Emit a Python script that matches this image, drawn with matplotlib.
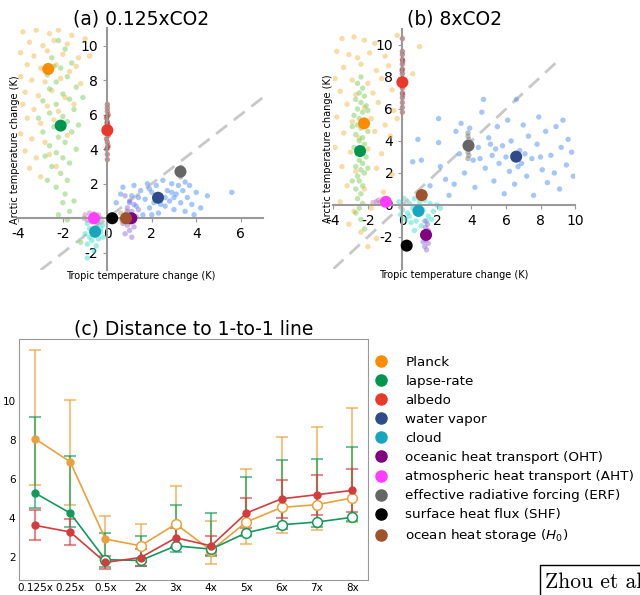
import matplotlib
matplotlib.use("Agg")
import matplotlib.pyplot as plt
from matplotlib.lines import Line2D

plt.rcParams['axes.unicode_minus'] = False

# ---------------- components ----------------
names = ["Planck", "lapse-rate", "albedo", "water vapor", "cloud",
         "oceanic heat transport (OHT)", "atmospheric heat transport (AHT)",
         "effective radiative forcing (ERF)", "surface heat flux (SHF)",
         "ocean heat storage ($H_0$)"]
keys = ["planck", "lapse", "albedo", "wv", "cloud", "oht", "aht", "erf", "shf", "h0"]
mean_colors = ["#ff8c00", "#00964f", "#e8392a", "#2f4b8a", "#18a6bf",
               "#800080", "#ff3dff", "#666666", "#000000", "#a0522d"]
cloud_colors = ["#f5b94f", "#7ccd5a", "#b22222", "#4a8ff5", "#40e0d0",
                "#9370db", "#c882b4", "#808080", "#000000", "#c8a070"]

# ---------------- panel (a) 0.125xCO2 : (tropic, arctic) ----------------
a_mean_x = [-2.66, -2.1, 0.0, 2.28, -0.55, 1.08, -0.6, 3.29, 0.22, 0.84]
a_mean_y = [8.65, 5.37, 5.1, 1.19, -0.78, 0.0, 0.0, 2.7, 0.0, 0.0]

a_cloud = {
    "planck": [(-3.8, 10.8), (-3.2, 10.9), (-2.6, 10.7), (-2.2, 10.9), (-1.6, 10.6), (-3.5, 10.2),
               (-2.9, 10.0), (-2.4, 10.3), (-1.8, 10.1), (-3.9, 9.6), (-3.3, 9.4), (-2.7, 9.7),
               (-2.0, 9.5), (-1.3, 9.3), (-3.6, 8.9), (-3.0, 8.7), (-2.3, 8.9), (-1.7, 8.5),
               (-3.9, 8.2), (-3.4, 8.0), (-2.8, 7.9), (-2.1, 8.1), (-1.2, 7.8), (-3.7, 7.3),
               (-3.1, 7.1), (-2.5, 7.4), (-1.9, 7.0), (-3.8, 6.6), (-3.3, 6.3), (-2.7, 6.5),
               (-2.2, 6.2), (-1.5, 6.6), (-3.6, 5.8), (-3.0, 5.5), (-2.4, 5.7), (-3.9, 4.9),
               (-3.4, 4.6), (-2.8, 4.4), (-1.8, 4.8), (-3.7, 3.9), (-3.2, 3.5), (-2.6, 3.7),
               (-3.5, 2.9), (-3.0, 2.4), (-2.3, 3.0), (-0.8, 9.4), (-1.0, 10.4), (-1.4, 8.8)],
    "lapse": [(-2.2, 10.3), (-1.9, 9.8), (-2.5, 9.3), (-1.6, 9.0), (-2.1, 8.7), (-2.7, 8.3),
              (-1.8, 8.2), (-2.3, 7.9), (-1.4, 7.6), (-2.6, 7.5), (-2.0, 7.2), (-1.7, 6.9),
              (-2.9, 6.8), (-2.3, 6.6), (-1.5, 6.3), (-2.6, 6.1), (-2.0, 5.9), (-1.8, 5.6),
              (-2.4, 5.3), (-2.9, 5.0), (-1.6, 5.0), (-2.2, 4.7), (-1.9, 4.4), (-2.6, 4.2),
              (-1.4, 4.0), (-2.3, 3.8), (-2.0, 3.5), (-1.7, 3.2), (-2.5, 3.0), (-2.1, 2.6),
              (-1.8, 2.2), (-2.3, 1.8), (-1.9, 1.4), (-2.0, 0.9), (-1.7, 0.4), (-1.8, -0.1),
              (-1.2, -1.4), (-2.8, 3.6), (-1.3, 5.4), (-2.4, 8.8), (-1.1, 7.0), (-2.7, 2.2),
              (-1.5, 1.0), (-2.2, 0.2), (-3.1, 5.8)],
    "albedo": [(0, 3.4), (0, 3.7), (-0.03, 4.0), (0.03, 4.2), (0, 4.4), (-0.04, 4.6), (0.04, 4.8),
               (0, 5.0), (-0.03, 5.2), (0.03, 5.4), (0, 5.6), (-0.04, 5.8), (0.04, 6.0), (0, 6.2),
               (0, 6.4), (0, 6.6), (0.02, 4.1), (-0.02, 5.5), (0.01, 4.9), (-0.01, 5.9)],
    "wv": [(0.4, 0.9), (0.7, 1.8), (0.9, 0.4), (1.1, 1.3), (1.2, 1.9), (1.3, 0.7), (1.5, 1.6),
           (1.6, 0.2), (1.7, 1.1), (1.8, 2.0), (1.9, 0.6), (2.0, 1.5), (2.1, 0.9), (2.2, 1.9),
           (2.3, 0.3), (2.4, 1.3), (2.5, 2.2), (2.6, 0.7), (2.7, 1.6), (2.8, 1.0), (2.9, 2.0),
           (3.0, 0.5), (3.1, 1.4), (3.2, 1.9), (3.3, 0.9), (3.4, 1.6), (3.5, 0.4), (3.6, 1.2),
           (3.7, 1.9), (3.8, 0.8), (4.0, 1.5), (4.2, 0.6), (4.5, 1.3), (1.4, 1.2), (2.0, 0.2),
           (2.6, 1.2), (3.0, 1.2), (1.9, 1.7), (2.4, 0.8), (2.9, 1.5), (5.6, 1.5), (3.9, 0.2),
           (1.0, 0.9), (0.6, 1.4), (3.5, 2.1)],
    "cloud": [(-0.9, -0.3), (-0.7, -0.1), (-0.4, -0.2), (-0.2, -0.4), (-0.8, -0.6), (-0.5, -0.5),
              (-0.3, -0.8), (-1.0, -0.9), (-0.6, -1.0), (-0.4, -1.2), (-0.7, -1.3), (-0.9, -1.5),
              (-0.5, -1.6), (-0.2, -1.1), (-0.6, -1.9), (-0.9, -2.3), (-0.3, -0.6), (-0.8, -1.1)],
    "oht": [(0.8, 1.3), (1.0, 1.0), (1.2, 0.8), (0.9, 0.6), (1.1, 0.4), (0.8, 0.2), (1.3, 0.1),
            (1.0, -0.2), (0.9, -0.4), (1.2, -0.5), (1.0, -0.7), (0.8, -0.9), (1.1, -1.1),
            (1.4, 0.5), (0.7, -0.3)],
    "aht": [(-1.0, 0.2), (-0.8, 0.3), (-0.6, 0.25), (-0.4, 0.2), (-0.9, -0.1), (-0.7, -0.2),
            (-0.5, -0.1), (-0.3, 0.0), (-1.05, 0.0), (-0.45, -0.25)],
    "erf": [(3.3, 2.4), (3.3, 2.55), (3.28, 2.8), (3.32, 2.95)],
    "shf": [],
    "h0": [(0.6, 0.3), (0.7, -0.2), (0.9, 0.35), (1.0, -0.25), (0.75, 0.1), (0.95, 0.0),
           (0.65, -0.1)],
}

# ---------------- panel (b) 8xCO2 ----------------
b_mean_x = [-2.22, -2.45, 0.0, 6.59, 0.93, 1.37, -0.96, 3.83, 0.25, 1.12]
b_mean_y = [5.1, 3.37, 7.67, 3.02, -0.37, -1.87, 0.2, 3.71, -2.54, 0.62]

b_cloud = {
    "planck": [(-3.5, 10.4), (-2.8, 10.5), (-2.2, 10.3), (-1.6, 10.1), (-0.3, 10.6), (1.0, 9.9),
               (-3.8, 9.6), (-3.1, 9.4), (-2.6, 9.2), (-1.9, 9.5), (-1.0, 9.3), (-3.4, 8.6),
               (-2.4, 8.8), (-1.5, 8.4), (-0.8, 8.7), (-3.9, 7.9), (-2.9, 7.8), (-2.0, 7.6),
               (-1.2, 7.9), (-3.6, 7.1), (-2.7, 6.9), (-1.7, 7.0), (-0.6, 7.2), (-3.2, 6.3),
               (-2.2, 6.1), (-1.4, 6.4), (-0.5, 5.9), (-3.8, 5.5), (-2.9, 5.2), (-1.8, 5.4),
               (-1.0, 5.0), (-3.4, 4.5), (-2.5, 4.2), (-1.6, 4.6), (-0.7, 4.3), (-3.9, 3.6),
               (-3.0, 3.3), (-2.0, 3.5), (-1.2, 3.2), (-3.5, 2.4), (-2.7, 2.1), (-1.5, 2.3),
               (-0.6, 1.9), (-3.2, 1.2), (-2.2, 1.0), (-1.1, 0.8), (-3.6, 0.2), (-2.8, -0.4),
               (-1.8, -0.2), (-3.1, -1.2), (-2.4, -1.7), (-1.5, -2.1), (-2.0, -2.6), (0.6, 8.2),
               (-0.3, 5.4)],
    "lapse": [(-2.4, 8.0), (-2.6, 7.6), (-2.3, 7.3), (-2.5, 7.0), (-2.2, 6.8), (-2.7, 6.6),
              (-2.4, 6.4), (-2.1, 6.2), (-2.6, 6.0), (-2.3, 5.8), (-2.8, 5.6), (-2.5, 5.4),
              (-2.2, 5.2), (-2.6, 5.0), (-2.4, 4.8), (-2.0, 4.6), (-2.7, 4.4), (-2.3, 4.2),
              (-2.5, 4.0), (-2.2, 3.8), (-2.8, 3.6), (-2.4, 3.4), (-2.6, 3.2), (-2.1, 3.0),
              (-2.5, 2.8), (-2.3, 2.6), (-2.7, 2.4), (-2.4, 2.2), (-2.2, 2.0), (-2.6, 1.8),
              (-2.5, 1.5), (-2.3, 1.2), (-2.7, 1.0), (-2.4, 0.7), (-2.6, 0.4), (-2.3, 0.1),
              (-2.5, -0.2), (-2.7, -0.5), (-2.4, -0.9), (-2.2, -1.5), (-2.9, 4.9), (-2.0, 2.3),
              (-2.9, 1.5), (-2.0, 5.9)],
    "albedo": [(0, 5.8), (0, 6.1), (0, 6.4), (0, 6.7), (0, 7.0), (0, 7.3), (0, 7.6), (0, 7.9),
               (0, 8.2), (0, 8.5), (0, 8.8), (0, 9.1), (0, 9.4), (0, 9.6), (0, 10.4),
               (0.02, 6.9), (-0.02, 8.4), (0.02, 9.0)],
    "wv": [(0.6, 2.7), (0.9, 4.1), (1.1, 2.8), (1.6, 1.2), (2.1, 5.4), (2.1, 3.9), (2.2, 2.4),
           (2.5, 1.6), (2.7, 0.6), (3.1, 4.6), (3.3, 3.2), (3.4, 5.1), (3.6, 2.0), (3.9, 4.8),
           (4.1, 2.8), (4.2, 1.1), (4.4, 3.6), (4.6, 5.8), (4.8, 2.3), (4.7, 6.6), (5.0, 4.2),
           (5.2, 3.1), (5.3, 1.5), (5.5, 4.9), (5.6, 2.6), (5.8, 3.7), (5.9, 0.7), (6.1, 5.3),
           (6.2, 2.1), (6.3, 4.0), (6.5, 1.3), (6.6, 6.6), (6.8, 3.4), (6.9, 2.6), (7.0, 5.0),
           (7.2, 1.8), (7.3, 4.3), (7.5, 2.9), (7.6, 0.6), (7.8, 3.8), (7.9, 5.5), (8.1, 2.2),
           (8.3, 4.6), (8.4, 1.4), (8.6, 3.1), (8.8, 2.0), (8.9, 4.9), (9.1, 1.0), (9.2, 3.6),
           (9.3, 5.3), (9.5, 2.5), (9.6, 4.1), (9.8, 3.3), (9.9, 1.8), (5.4, 3.5), (6.0, 3.0),
           (7.1, 3.2), (4.5, 2.9), (8.0, 3.0), (3.0, 1.3), (6.7, 2.4), (5.1, 3.8)],
    "cloud": [(-0.2, 0.2), (0.1, 0.4), (0.4, 0.1), (0.7, 0.4), (1.0, 0.2), (1.3, 0.3), (1.6, 0.1),
              (2.0, 0.0), (0.0, -0.3), (0.3, -0.5), (0.6, -0.2), (0.9, -0.6), (1.2, -0.3),
              (1.5, -0.7), (1.8, -0.4), (2.2, -0.2), (0.2, -0.9), (0.5, -1.1), (0.8, -1.0),
              (1.1, -1.3), (1.4, -1.0), (0.7, -1.6), (1.0, -0.1), (1.7, -0.9), (0.4, -0.7),
              (-0.1, -0.6)],
    "oht": [(1.3, -1.0), (1.45, -1.2), (1.35, -1.4), (1.5, -1.6), (1.25, -1.8), (1.45, -2.0),
            (1.35, -2.2), (1.5, -2.4), (1.3, -2.6), (1.4, -2.8), (1.55, -1.9), (1.2, -2.3)],
    "aht": [(-1.7, 0.15), (-1.5, 0.2), (-1.3, 0.15), (-1.1, 0.25), (-0.9, 0.2), (-0.7, 0.15),
            (-1.4, 0.3), (-0.8, 0.3)],
    "erf": [(3.8, 2.9), (3.85, 3.1), (3.8, 3.3), (3.85, 3.5), (3.8, 3.9), (3.85, 4.1),
            (3.8, 4.3), (3.8, 4.5)],
    "shf": [],
    "h0": [(1.05, 0.4), (1.15, 0.8), (1.1, 0.55)],
}

# ---------------- panel (c) distance to 1-to-1 line ----------------
scenarios = ["0.125x", "0.25x", "0.5x", "2x", "3x", "4x", "5x", "6x", "7x", "8x"]

orange_mean = [8.05, 6.87, 2.91, 2.56, 3.68, 2.32, 3.78, 4.53, 4.67, 5.01]
orange_lo = [5.68, 4.67, 1.85, 1.75, 2.5, 1.62, 2.67, 3.21, 3.38, 3.76]
orange_hi = [12.6, 10.05, 4.07, 3.69, 5.61, 3.81, 6.49, 8.12, 8.63, 9.61]
orange_filled = [True, True, True, False, False, False, False, False, False, False]

green_mean = [5.27, 4.24, 1.85, 1.81, 2.56, 2.39, 3.23, 3.64, 3.78, 4.02]
green_lo = [4.48, 3.5, 1.5, 1.55, 2.22, 2.02, 3.04, 3.43, 3.55, 3.81]
green_hi = [9.16, 7.14, 3.21, 3.06, 4.65, 4.24, 6.09, 6.94, 7.01, 7.62]
green_filled = [True, True, False, False, False, False, False, False, False, False]

red_mean = [3.61, 3.27, 1.71, 1.96, 2.97, 2.56, 4.24, 4.97, 5.18, 5.4]
red_lo = [2.86, 2.58, 1.37, 1.55, 2.5, 2.08, 3.47, 4.0, 4.15, 4.27]
red_hi = [4.39, 3.95, 2.05, 2.4, 3.47, 3.04, 5.01, 5.91, 6.2, 6.5]
red_filled = [True] * 10

# 1-to-1 reference line ends for each scatter panel
a_diag = [-3, 7]
b_diag = [-4, 9]


def scatter_panel(ax, title, cloud, mean_x, mean_y, xlim, ylim, xticks, yticks, diag,
                  ylab_x):
    ax.set_xlim(xlim)
    ax.set_ylim(ylim)
    ax.plot(diag, diag, ls=(0, (5, 3)), color="#c8c8c8", lw=2, zorder=1)
    for k, cc in zip(keys, cloud_colors):
        pts = cloud[k]
        if pts:
            ax.scatter([p[0] for p in pts], [p[1] for p in pts], s=15, color=cc,
                       alpha=0.5, edgecolors="none", zorder=2)
    for mx, my, mc in zip(mean_x, mean_y, mean_colors):
        ax.scatter(mx, my, s=75, color=mc, edgecolors="none", zorder=4)
    for side in ["top", "right"]:
        ax.spines[side].set_visible(False)
    for side in ["left", "bottom"]:
        ax.spines[side].set_position(("data", 0))
        ax.spines[side].set_color("#999999")
        ax.spines[side].set_linewidth(1.5)
    ax.set_xticks(xticks)
    ax.set_yticks(yticks)
    ax.tick_params(labelsize=10, color="#999999", length=3)
    ax.set_title(title, fontsize=13.5, pad=2)
    ax.text(0.5, -0.005, "Tropic temperature change (K)", transform=ax.transAxes,
            ha="center", va="top", fontsize=7)
    ax.text(ylab_x, 0.5, "Arctic temperature change (K)", transform=ax.transAxes,
            ha="center", va="center", rotation=90, fontsize=7)


fig = plt.figure(figsize=(6.4, 5.95), dpi=100)

ax_a = fig.add_axes([0.0288, 0.5462, 0.382, 0.406])
scatter_panel(ax_a, "(a) 0.125xCO2", a_cloud, a_mean_x, a_mean_y, (-4, 7), (-3, 11),
              [-4, -2, 0, 2, 4, 6], [-2, 0, 2, 4, 6, 8, 10], a_diag, -0.014)

ax_b = fig.add_axes([0.5208, 0.5479, 0.3777, 0.4034])
scatter_panel(ax_b, "(b) 8xCO2", b_cloud, b_mean_x, b_mean_y, (-4, 10), (-4, 11),
              [-4, -2, 0, 2, 4, 6, 8, 10], [-2, 0, 2, 4, 6, 8, 10], b_diag, -0.02)

# panel (c)
ax_c = fig.add_axes([0.0297, 0.0252, 0.5453, 0.4051])
xpos = list(range(len(scenarios)))
series = [
    (orange_mean, orange_lo, orange_hi, orange_filled, "#e9a23b"),
    (green_mean, green_lo, green_hi, green_filled, "#139a5a"),
    (red_mean, red_lo, red_hi, red_filled, "#d13d3d"),
]
for mean, lo, hi, filled, col in series:
    err = [[m - l for m, l in zip(mean, lo)], [h - m for h, m in zip(hi, mean)]]
    ax_c.errorbar(xpos, mean, yerr=err, fmt="none", ecolor=col, alpha=0.6,
                  elinewidth=1.5, capsize=4, capthick=1.5, zorder=2)
    ax_c.plot(xpos, mean, color=col, lw=1.2, zorder=3)
    for x, m, f in zip(xpos, mean, filled):
        if f:
            ax_c.plot(x, m, "o", color=col, markersize=5, zorder=4)
        else:
            ax_c.plot(x, m, "o", mfc="white", mec=col, mew=1.1, markersize=7, zorder=4)
ax_c.set_xticks(xpos)
ax_c.set_xticklabels(scenarios)
ax_c.set_yticks([2, 4, 6, 8, 10])
ax_c.tick_params(labelsize=7.5, length=0, pad=2.5)
for sp in ax_c.spines.values():
    sp.set_color("#999999")
ax_c.set_title("(c) Distance to 1-to-1 line", fontsize=13.5, pad=3)

# legend for the components
handles = [Line2D([], [], marker="o", ls="none", color=c, markersize=8) for c in mean_colors]
fig.legend(handles, names, loc="upper left", bbox_to_anchor=(0.566, 0.411),
           frameon=False, fontsize=9.7, labelspacing=0.45, borderaxespad=0)

fig.text(0.852, 0.012, "Zhou et al. (2024)", fontsize=15.5, family="cmr10",
         bbox=dict(facecolor="white", edgecolor="black", lw=1, pad=4))

fig.savefig("out.png", dpi=100)
